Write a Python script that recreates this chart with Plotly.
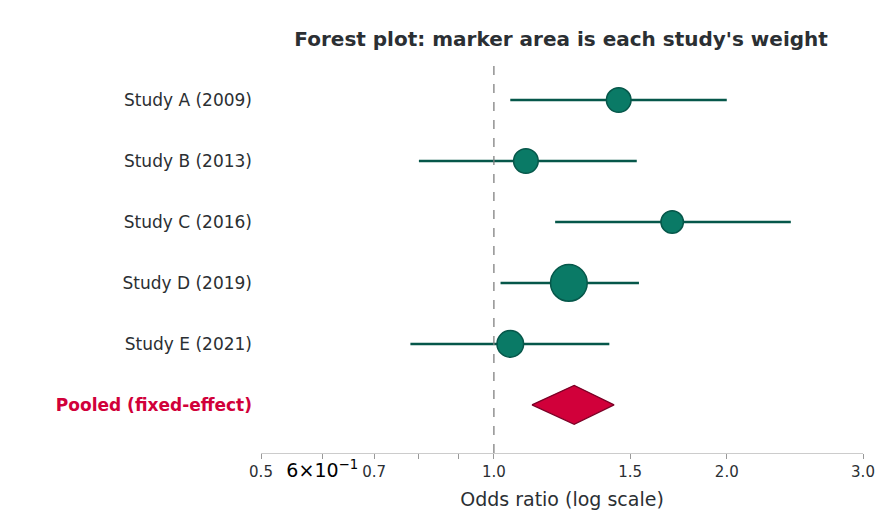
import numpy as np
import plotly.graph_objects as go

studies = ["Study A (2009)", "Study B (2013)", "Study C (2016)", "Study D (2019)", "Study E (2021)"]
odds = [1.45, 1.10, 1.70, 1.25, 1.05]
lower = [1.05, 0.80, 1.20, 1.02, 0.78]
upper = [2.00, 1.53, 2.42, 1.54, 1.41]
weights = [18, 18, 15, 40, 21]
pooled_label = "Pooled (fixed-effect)"
pooled = [1.12, 1.27, 1.43]  # lower, estimate, upper
tick_vals = [0.5, 0.6, 0.7, 0.8, 0.9, 1.0, 1.5, 2.0, 3.0]
tick_text = ["0.5", "<span style='font-size:19px;color:black'>6×10<sup>−1</sup></span>", "0.7", "", "", "1.0", "1.5", "2.0", "3.0"]

line_col = "#06574a"
fig = go.Figure()

for i, s in enumerate(studies):
    fig.add_trace(go.Scatter(x=[lower[i], upper[i]], y=[i, i], mode="lines",
                             line=dict(color=line_col, width=2.5), showlegend=False, hoverinfo="skip"))

sizes = [5.8 * np.sqrt(w) for w in weights]
fig.add_trace(go.Scatter(x=odds, y=list(range(len(studies))), mode="markers",
                         marker=dict(size=sizes, color="#0a7a66", opacity=1,
                                     line=dict(color=line_col, width=1.5)),
                         showlegend=False))

py = len(studies)
fig.add_trace(go.Scatter(x=[pooled[0], pooled[1], pooled[2], pooled[1], pooled[0]],
                         y=[py, py - 0.32, py, py + 0.32, py], mode="lines", fill="toself",
                         fillcolor="#d1003a", line=dict(color="#7a0026", width=1.2), showlegend=False))

fig.add_vline(x=1.0, line=dict(color="grey", width=1.3, dash="dash"))

labels = studies + ["<b><span style='color:#d1003a'>" + pooled_label + "</span></b>"]
fig.update_layout(
    width=885, height=525, plot_bgcolor="white", paper_bgcolor="white",
    margin=dict(l=253, r=30, t=50, b=80),
    font=dict(family="DejaVu Sans", color="#2b2f33", size=17),
    title=dict(text="<b>Forest plot: marker area is each study's weight</b>", x=0.625, xanchor="center",
               y=0.955, font=dict(size=20, color="#2b2f33")),
    xaxis=dict(type="log", range=[np.log10(0.5), np.log10(3.0)], tickvals=tick_vals, ticktext=tick_text,
               showgrid=False, zeroline=False, showline=True, linecolor="#cccccc", ticks="outside",
               tickcolor="#999999", ticklen=5, tickfont=dict(size=15),
               title=dict(text="Odds ratio (log scale)", font=dict(size=19), standoff=12)),
    yaxis=dict(range=[5.79, -0.69], tickvals=list(range(py + 1)), ticktext=labels, showgrid=False,
               zeroline=False, showline=False, ticks="", tickfont=dict(size=17), ticklabelstandoff=8),
)

fig.write_html("out.html")
